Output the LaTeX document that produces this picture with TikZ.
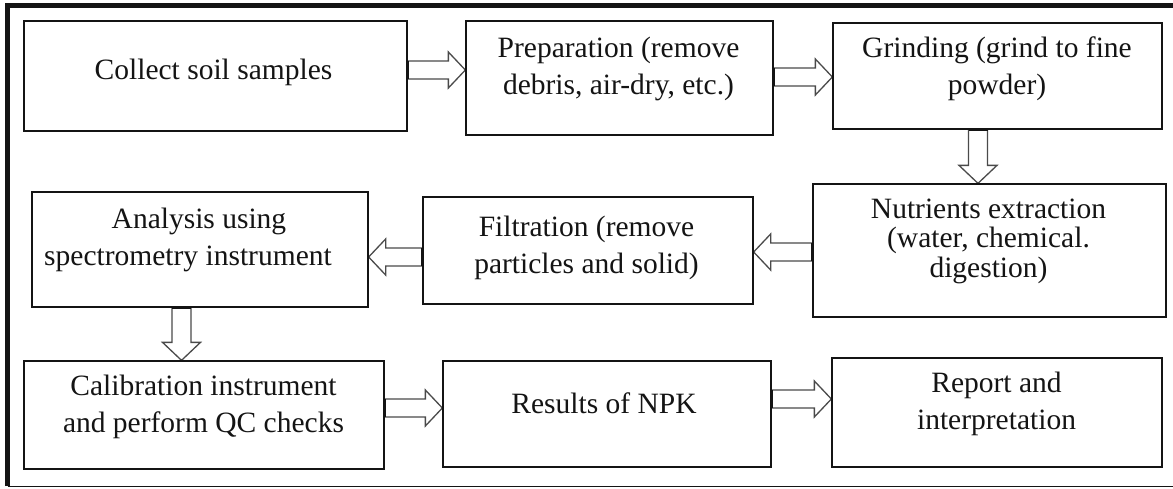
\documentclass[tikz,border=0pt]{standalone}
\usepackage{fontspec}
\setmainfont{Liberation Serif}
\usetikzlibrary{calc,backgrounds}

\definecolor{ink}{HTML}{141414}
\definecolor{arrowgray}{HTML}{4A4A4A}

\tikzset{
  box/.style={draw=ink, line width=1.3pt, fill=white, inner sep=0pt},
  txt/.style={text=ink, align=center, inner sep=0pt,
              font=\fontsize{29.5}{37}\selectfont},
  tighttxt/.style={txt, font=\fontsize{29.5}{29.5}\selectfont},
  blockarrow/.style={draw=arrowgray, line width=1.3pt, fill=white, line join=miter},
  % hollow block arrows; the start point fixes the axis, the target fixes the tip
  rarrow/.style={blockarrow, to path={let \p1=(\tikztostart), \p2=(\tikztotarget) in
    (\x1,\y1+9) -- (\x2-17,\y1+9) -- (\x2-17,\y1+18) -- (\x2,\y1)
    -- (\x2-17,\y1-18) -- (\x2-17,\y1-9) -- (\x1,\y1-9) -- cycle}},
  larrow/.style={blockarrow, to path={let \p1=(\tikztostart), \p2=(\tikztotarget) in
    (\x1,\y1+9) -- (\x2+17,\y1+9) -- (\x2+17,\y1+18) -- (\x2,\y1)
    -- (\x2+17,\y1-18) -- (\x2+17,\y1-9) -- (\x1,\y1-9) -- cycle}},
  darrow/.style={blockarrow, to path={let \p1=(\tikztostart), \p2=(\tikztotarget) in
    (\x1-9.5,\y1) -- (\x1-9.5,\y2+18) -- (\x1-19,\y2+18) -- (\x1,\y2)
    -- (\x1+19,\y2+18) -- (\x1+9.5,\y2+18) -- (\x1+9.5,\y1) -- cycle}},
  % dark bar where an arrow's tail meets its box
  htail/.style={draw=ink, line width=3pt, to path={let \p1=(\tikztostart) in
    (\x1,\y1+9) -- (\x1,\y1-9)}},
  vtail/.style={draw=ink, line width=3pt, to path={let \p1=(\tikztostart) in
    (\x1-9.5,\y1) -- (\x1+9.5,\y1)}},
}

\begin{document}
\begin{tikzpicture}[x=1pt, y=1pt]
\useasboundingbox (0,0) rectangle (1173,-488);

% page frame: heavy rule on the left and top, thin rule at the bottom
\draw[ink, line width=1.5pt] (7.5,-486.5) -- (1173,-486.5);
\draw[ink, line width=5pt] (7.5,-486) -- (7.5,-5.5) -- (1173,-5.5);

% process steps
\node[box, minimum width=383pt, minimum height=110pt] (b1) at (215.5,-76) {};
\node[box, minimum width=307pt, minimum height=114pt] (b2) at (619.5,-78) {};
\node[box, minimum width=329pt, minimum height=106pt] (b3) at (997.5,-76) {};
\node[box, minimum width=353pt, minimum height=133pt] (b4) at (989.5,-250.5) {};
\node[box, minimum width=330pt, minimum height=107pt] (b5) at (588,-250.5) {};
\node[box, minimum width=336pt, minimum height=115pt] (b6) at (200,-249.5) {};
\node[box, minimum width=360pt, minimum height=108pt] (b7) at (204,-415) {};
\node[box, minimum width=328pt, minimum height=106pt] (b8) at (607,-414) {};
\node[box, minimum width=330pt, minimum height=109pt] (b9) at (997,-412.5) {};

% step labels
\node[txt] (t1) at (213.5,-72) {Collect soil samples};
\node[txt] (t2) at (618.5,-68.5) {Preparation (remove\\debris, air-dry, etc.)};
\node[txt] (t3) at (997,-69) {Grinding (grind to fine\\powder)};
\node[tighttxt] (t4) at (988.5,-241) {Nutrients extraction\\(water, chemical.\\digestion)};
\node[txt] (t5) at (586.5,-247.5) {Filtration (remove\\particles and solid)};
\node[txt] (t6) at (199,-239.5) {Analysis using\\spectrometry instrument\hspace*{22pt}};
\node[txt] (t7) at (203.5,-406.5) {Calibration instrument\\and perform QC checks};
\node[txt] (t8) at (604,-403) {Results of NPK};
\node[txt] (t9) at (996.5,-404) {Report and\\interpretation};

% flow arrows, kept beneath the box outlines
\begin{scope}[on background layer]
\draw[rarrow] ($(b1.east)+(0,6)$) to (b2.west);
\draw[rarrow] ($(b2.east)+(0,1)$) to (b3.west);
\draw[darrow] ($(b3.south)+(-19.5,0)$) to (b4.north);
\draw[larrow] ($(b4.west)+(0,-1.5)$) to (b5.east);
\draw[larrow] ($(b5.west)+(0,-6.5)$) to (b6.east);
\draw[darrow] ($(b6.south)+(-18.5,0)$) to (b7.north);
\draw[rarrow] ($(b7.east)+(0,7)$) to (b8.west);
\draw[rarrow] ($(b8.east)+(0,15)$) to (b9.west);
\end{scope}

% arrow tails
\draw[htail] ($(b1.east)+(0,6)$) to (b2.west);
\draw[htail] ($(b2.east)+(0,1)$) to (b3.west);
\draw[vtail] ($(b3.south)+(-19.5,0)$) to (b4.north);
\draw[htail] ($(b4.west)+(0,-1.5)$) to (b5.east);
\draw[htail] ($(b5.west)+(0,-6.5)$) to (b6.east);
\draw[vtail] ($(b6.south)+(-18.5,0)$) to (b7.north);
\draw[htail] ($(b7.east)+(0,7)$) to (b8.west);
\draw[htail] ($(b8.east)+(0,15)$) to (b9.west);
\end{tikzpicture}
\end{document}
